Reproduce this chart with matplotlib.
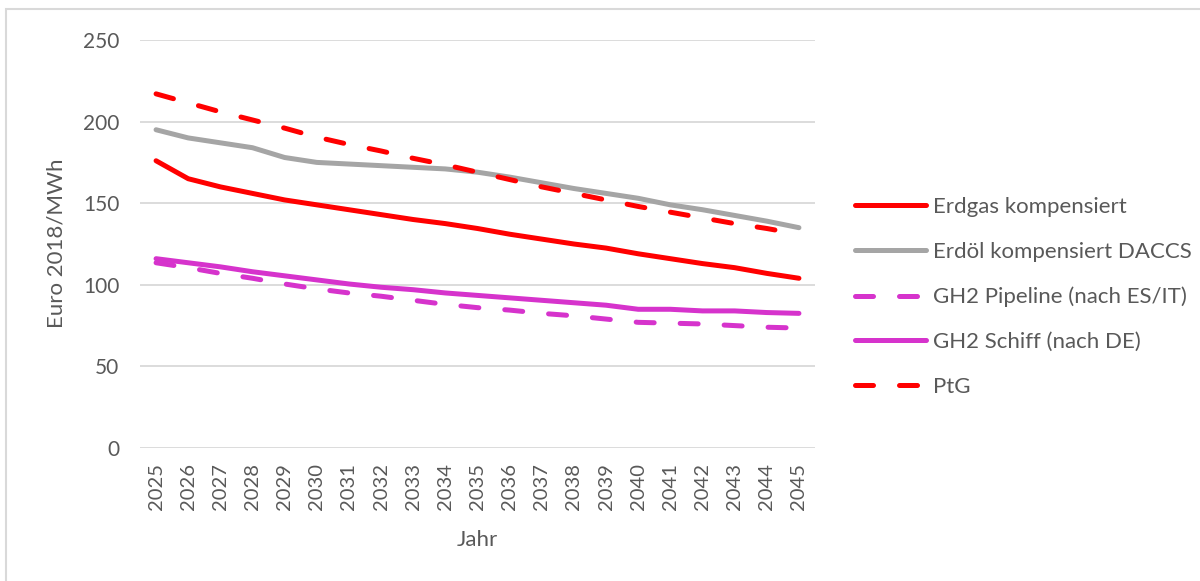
"""Gestehungskosten der Energieträger 2025-2045 (Euro 2018/MWh)."""

import matplotlib

matplotlib.use("Agg")
import matplotlib.pyplot as plt  # noqa: E402
from matplotlib.patches import Rectangle  # noqa: E402

plt.rcParams["font.family"] = ["Lato", "DejaVu Sans"]

YEARS = list(range(2025, 2046))

ERDGAS = [176, 165, 160, 156, 152, 149, 146, 143, 140, 137.5, 134.5,
          131, 128, 125, 122.5, 119, 116, 113, 110.5, 107, 104]
ERDOEL_DACCS = [195, 190, 187, 184, 178, 175, 174, 173, 172, 171, 169,
                166, 162.5, 159, 156, 153, 149, 146, 142.5, 139, 135]
GH2_PIPELINE = [113.5, 110.5, 107, 104, 100.5, 97.5, 95, 93, 90.5, 88, 86,
                84.5, 82.5, 81, 79, 77, 76.5, 76, 75, 74, 73.5]
GH2_SCHIFF = [116, 113.5, 111, 108, 105.5, 103, 100.5, 98.5, 97, 95, 93.5,
              92, 90.5, 89, 87.5, 85, 85, 84, 84, 83, 82.5]
PTG = [217, 211.5, 206, 201, 196, 190.5, 186, 182, 177.5, 173.5, 169,
       164.5, 160, 156, 152, 148, 144.5, 141, 137.5, 134.5, 131]

RED = "#FF0000"
GREY = "#A5A5A5"
MAGENTA = "#D633CC"
TEXT = "#595959"
GRID = "#D9D9D9"

LW = 3.6
DASH = (0, (3.6, 5.2))

fig = plt.figure(figsize=(12, 5.81), dpi=100)
ax = fig.add_axes([140 / 1200, 1 - 448 / 581, 675 / 1200, 408 / 581])

series = [
    (ERDGAS, "Erdgas kompensiert", RED, "-"),
    (ERDOEL_DACCS, "Erdöl kompensiert DACCS", GREY, "-"),
    (GH2_PIPELINE, "GH2 Pipeline (nach ES/IT)", MAGENTA, DASH),
    (GH2_SCHIFF, "GH2 Schiff (nach DE)", MAGENTA, "-"),
    (PTG, "PtG", RED, DASH),
]
# draw order: magenta first so red/grey sit on top as in the original
for vals, label, color, ls in [series[3], series[2], series[1], series[0], series[4]]:
    ax.plot(YEARS, vals, color=color, lw=LW, ls=ls, label=label,
            solid_capstyle="round", dash_capstyle="round", zorder=3)

ax.set_xlim(2024.5, 2045.5)
ax.set_ylim(0, 250)
ax.set_yticks(range(0, 251, 50))
ax.set_xticks(YEARS)
ax.set_xticklabels([str(y) for y in YEARS], rotation=90)
ax.tick_params(axis="y", length=0, pad=15, labelsize=15, labelcolor=TEXT)
ax.tick_params(axis="x", length=0, pad=11, labelsize=14.5, labelcolor=TEXT)
ax.grid(axis="y", color=GRID, lw=1.3)
ax.set_axisbelow(True)
for s in ax.spines.values():
    s.set_visible(False)

fig.text(57 / 1200, 1 - 243 / 581, "Euro 2018/MWh", rotation=90,
         ha="center", va="center", fontsize=16, color=TEXT)
ax.set_xlabel("Jahr", fontsize=16, color=TEXT, labelpad=14)

handles, labels = ax.get_legend_handles_labels()
order = [labels.index(s[1]) for s in series]
fig.legend([handles[i] for i in order], [labels[i] for i in order],
           loc="center left", bbox_to_anchor=(855 / 1200, 1 - 297 / 581),
           frameon=False, fontsize=16, labelcolor=TEXT, handlelength=3.2,
           handletextpad=0.3, labelspacing=1.12, borderpad=0, borderaxespad=0)

fig.patches.append(Rectangle((6 / 1200, -0.1), 1.2, 1.1 - 9 / 581,
                             transform=fig.transFigure, fill=False,
                             edgecolor=GRID, lw=1.5))

fig.savefig("out.png", dpi=100)
